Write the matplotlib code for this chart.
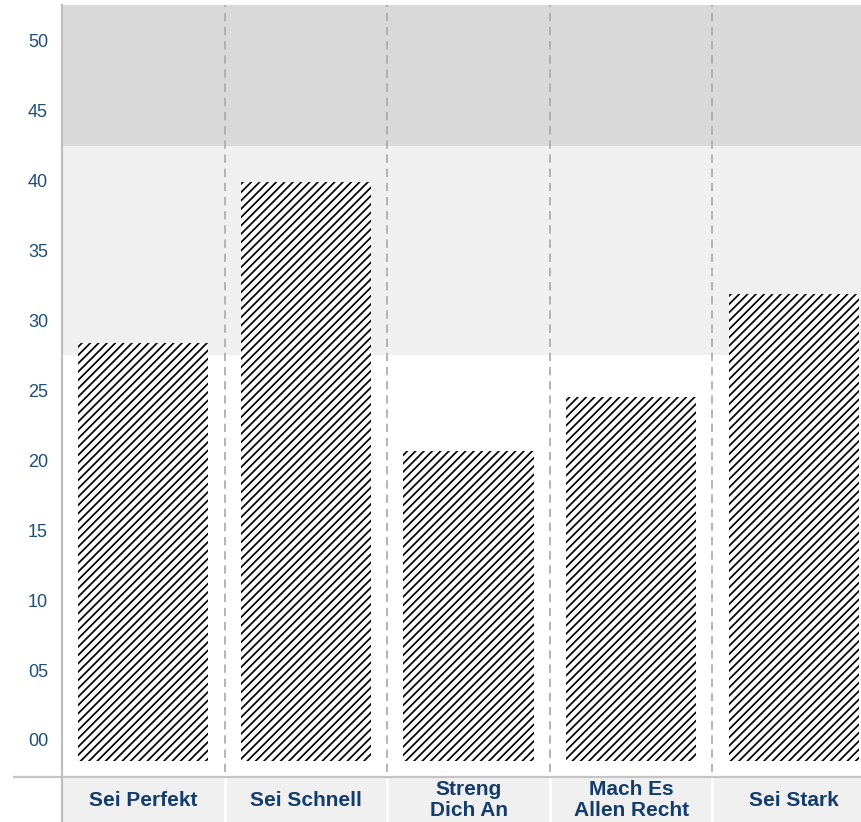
import matplotlib
matplotlib.use('Agg')
import matplotlib.pyplot as plt
from matplotlib.lines import Line2D

plt.rcParams['font.family'] = ['Liberation Sans', 'DejaVu Sans']
plt.rcParams['hatch.linewidth'] = 1.25

# data
categories = ['Sei Perfekt', 'Sei Schnell', 'Streng\nDich An', 'Mach Es\nAllen Recht', 'Sei Stark']
values = [28.4, 39.9, 20.7, 24.5, 31.9]
yticks = [0, 5, 10, 15, 20, 25, 30, 35, 40, 45, 50]
bar_base = -1.5
band_mid = (27.5, 42.5)

W, H = 862, 822
fig = plt.figure(figsize=(W / 100, H / 100), dpi=100)

# main plot area (last column runs off the right edge like the original)
ax = fig.add_axes([62 / W, (H - 777) / H, (875 - 62) / W, (777 - 5) / H])
ax.set_xlim(-0.5, 4.5)
ax.set_ylim(-2.65, 52.57)

ax.axhspan(band_mid[1], 60, color='#d9d9d9', zorder=0, lw=0)
ax.axhspan(band_mid[0], band_mid[1], color='#f0f0f0', zorder=0, lw=0)

x = list(range(len(categories)))
heights = [v - bar_base for v in values]
ax.bar(x, heights, bottom=bar_base, width=0.8, color='white',
       edgecolor='black', hatch='////', linewidth=0, zorder=2)

for xb in [0.5, 1.5, 2.5, 3.5]:
    ax.axvline(xb, ymin=0.007, ymax=1, color='#a8a8a8', lw=1.2,
               ls=(0, (5, 3.5)), zorder=1)

for s in ax.spines.values():
    s.set_visible(False)
ax.set_xticks([])
ax.set_yticks(yticks)
ax.set_yticklabels([f'{v:02d}' for v in yticks])
ax.tick_params(axis='y', length=0, pad=10, labelsize=13, labelcolor='#1f4e79')

# category label strip
lax = fig.add_axes([62 / W, 0, (875 - 62) / W, 44 / H])
lax.set_xlim(-0.5, 4.5)
lax.set_ylim(0, 1)
lax.set_facecolor('#f0f0f0')
for s in lax.spines.values():
    s.set_visible(False)
lax.set_xticks([])
lax.set_yticks([])
for xb in [0.5, 1.5, 2.5, 3.5]:
    lax.axvline(xb, color='white', lw=2)
for i, c in enumerate(categories):
    lax.text(i, 0.5, c, ha='center', va='center', fontsize=15, fontweight='bold',
             color='#123c6c', linespacing=1.15)

# frame lines
fig.add_artist(Line2D([14 / W, 1], [1 - 777 / H] * 2, color='#c4c4c4', lw=1.6))
fig.add_artist(Line2D([62 / W] * 2, [0, 1 - 5 / H], color='#bfbfbf', lw=1.6))

fig.savefig('out.png', dpi=100)
